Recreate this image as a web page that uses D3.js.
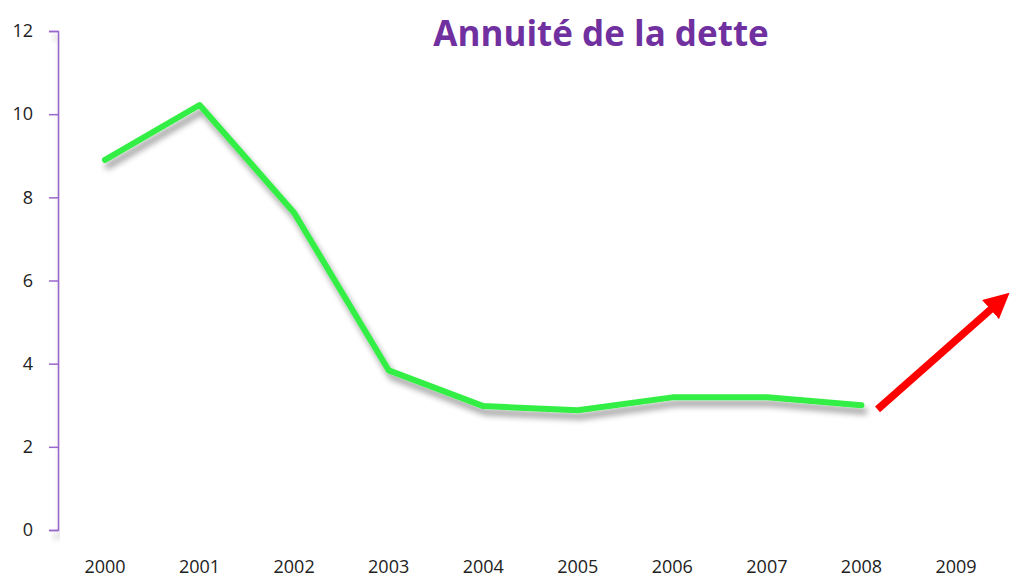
<!DOCTYPE html>
<html>
<head>
<meta charset="utf-8">
<script src="https://cdn.jsdelivr.net/npm/d3@7"></script>
<style>
  body { margin: 0; background: #fff; }
  text { font-family: "Open Sans", "Liberation Sans", sans-serif; }
</style>
</head>
<body>
<div id="chart"></div>
<script>
var years = ["2000", "2001", "2002", "2003", "2004", "2005", "2006", "2007", "2008", "2009"];
var annuite = [8.9, 10.22, 7.63, 3.84, 2.98, 2.88, 3.19, 3.19, 3.0];
var yTicks = [0, 2, 4, 6, 8, 10, 12];
// trend arrow, in (year index, value)
var arrowFrom = [8.17, 2.9];
var arrowTo = [9.56, 5.7];

var width = 1010, height = 577;
var svg = d3.select("#chart")
    .append("svg")
    .attr("width", width)
    .attr("height", height);

var defs = svg.append("defs");
var shadow = defs.append("filter").attr("id", "shadow")
    .attr("x", "-10%").attr("y", "-10%").attr("width", "120%").attr("height", "130%");
shadow.append("feGaussianBlur").attr("in", "SourceAlpha").attr("stdDeviation", 3).attr("result", "blur");
shadow.append("feOffset").attr("in", "blur").attr("dx", 3).attr("dy", 6).attr("result", "off");
shadow.append("feComponentTransfer").attr("in", "off").attr("result", "soft")
    .append("feFuncA").attr("type", "linear").attr("slope", 0.4);
var merge = shadow.append("feMerge");
merge.append("feMergeNode").attr("in", "soft");
merge.append("feMergeNode").attr("in", "SourceGraphic");

defs.append("marker").attr("id", "head")
    .attr("viewBox", "0 0 10 10").attr("refX", 6).attr("refY", 5)
    .attr("markerWidth", 3.4).attr("markerHeight", 3.4)
    .attr("orient", "auto")
  .append("path").attr("d", "M0,0 L10,5 L0,10 Z").attr("fill", "#ff0000");

var x = d3.scaleLinear().domain([0, years.length - 1]).range([105, 956]);
var y = d3.scaleLinear().domain([0, 12]).range([530, 31]);

// y axis
var yAxis = svg.append("g")
    .attr("transform", "translate(58,0)")
    .call(d3.axisLeft(y).tickValues(yTicks).tickSize(9).tickPadding(16));
yAxis.select(".domain").attr("stroke", "#9966cc").attr("stroke-width", 1.5)
    .attr("filter", "url(#shadow)");
yAxis.selectAll(".tick line").attr("stroke", "#9966cc").attr("stroke-width", 1.5);
yAxis.selectAll(".tick text").attr("font-size", 18).attr("fill", "#222")
    .attr("font-family", "'Open Sans', sans-serif");

// x labels
svg.selectAll(".xlab")
    .data(years)
    .enter()
  .append("text")
    .attr("class", "xlab")
    .attr("x", function(d, i){ return x(i); })
    .attr("y", 573)
    .attr("text-anchor", "middle")
    .attr("font-size", 18)
    .attr("fill", "#222")
    .text(function(d){ return d; });

// title
svg.append("text")
    .attr("x", 601)
    .attr("y", 46)
    .attr("text-anchor", "middle")
    .attr("font-size", 35)
    .attr("font-weight", "bold")
    .attr("fill", "#7030a0")
    .text("Annuité de la dette");

// green line
var line = d3.line()
    .x(function(d, i){ return x(i); })
    .y(function(d){ return y(d); });
svg.append("path")
    .datum(annuite)
    .attr("d", line)
    .attr("fill", "none")
    .attr("stroke", "#33ee44")
    .attr("stroke-width", 6)
    .attr("stroke-linecap", "round")
    .attr("stroke-linejoin", "round")
    .attr("filter", "url(#shadow)");

// red arrow (line stops short so the head tip lands on arrowTo)
svg.append("line")
    .attr("x1", x(arrowFrom[0])).attr("y1", y(arrowFrom[1]))
    .attr("x2", x(arrowTo[0]) - 7).attr("y2", y(arrowTo[1]) + 6.5)
    .attr("stroke", "#ff0000")
    .attr("stroke-width", 7.5)
    .attr("marker-end", "url(#head)");
</script>
</body>
</html>
